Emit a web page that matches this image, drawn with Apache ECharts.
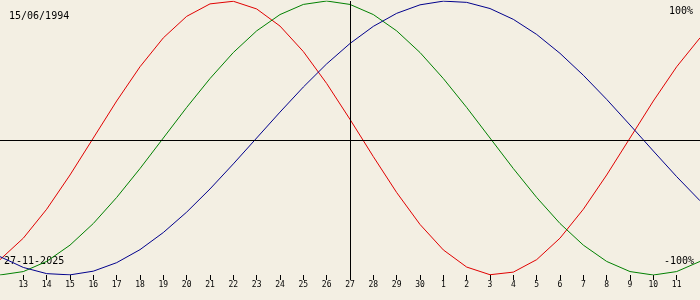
<!DOCTYPE html>
<html><head><meta charset="utf-8">
<script src="https://cdn.jsdelivr.net/npm/echarts@6/dist/echarts.min.js"></script>
<style>html,body{margin:0;padding:0;background:#f3efe3;}#c{width:700px;height:300px;}</style>
</head><body><div id="c"></div>
<script>
// Days shown: 12 Nov 2025 .. 12 Dec 2025 (selected day 27-11-2025)
var days = ['12','13','14','15','16','17','18','19','20','21','22','23','24','25','26','27','28','29','30',
            '1','2','3','4','5','6','7','8','9','10','11','12'];
// Values in percent
var physical = [-88.8,-73.1,-52.0,-27.0,0,27.0,52.0,73.1,88.8,97.9,99.8,94.2,81.7,63.1,39.8,13.6,
                -13.6,-39.8,-63.1,-81.7,-94.2,-99.8,-97.9,-88.8,-73.1,-52.0,-27.0,0,27.0,52.0,73.1];
var emotional = [-100,-97.5,-90.1,-78.2,-62.4,-43.4,-22.3,0,22.3,43.4,62.4,78.2,90.1,97.5,100,97.5,
                 90.1,78.2,62.4,43.4,22.3,0,-22.3,-43.4,-62.4,-78.2,-90.1,-97.5,-100,-97.5,-90.1];
var intellectual = [-86.6,-94.5,-99.0,-99.9,-97.2,-91.0,-81.5,-69.0,-54.1,-37.2,-18.9,0,18.9,37.2,54.1,69.0,
                    81.5,91.0,97.2,99.9,99.0,94.5,86.6,75.6,61.8,45.8,28.2,9.5,-9.5,-28.2,-45.8];
var birthDate = '15/06/1994';
var selectedDate = '27-11-2025';
var selectedIndex = 15;
var topLabel = '100%';
var bottomLabel = '-100%';

var chart = echarts.init(document.getElementById('c'), null, {renderer:'canvas'});
var edgeHide = function(i){ return i !== 0 && i !== days.length - 1; };
var mono = 'DejaVu Sans Mono';
chart.setOption({
  backgroundColor: '#f3efe3',
  animation: false,
  grid: {left: 0, right: 0, top: 1, bottom: 25},
  xAxis: {
    type: 'category', data: days, boundaryGap: false,
    axisLine: {show: false, onZero: false},
    axisTick: {show: true, length: 5, interval: edgeHide, lineStyle: {color: '#000', width: 1}},
    axisLabel: {interval: edgeHide, color: '#000', fontFamily: mono, fontSize: 8, margin: 6},
    splitLine: {show: false}
  },
  yAxis: {
    type: 'value', min: -100, max: 100, show: false
  },
  graphic: [
    {type: 'text', left: 9, top: 11, style: {text: birthDate, fill: '#000', font: '10px "DejaVu Sans Mono"'}},
    {type: 'text', right: 7, top: 6, style: {text: topLabel, fill: '#000', font: '10px "DejaVu Sans Mono"'}},
    {type: 'text', left: 4, top: 256, style: {text: selectedDate, fill: '#000', font: '10px "DejaVu Sans Mono"'}},
    {type: 'text', right: 6, top: 256, style: {text: bottomLabel, fill: '#000', font: '10px "DejaVu Sans Mono"'}}
  ],
  series: [
    {type: 'line', data: physical, symbol: 'none', lineStyle: {color: '#e00000', width: 1}, z: 3,
     markLine: {silent: true, symbol: 'none', label: {show: false},
       lineStyle: {color: '#000', width: 1, type: 'solid'},
       data: [{xAxis: selectedIndex}, {yAxis: -1.5}]}},
    {type: 'line', data: emotional, symbol: 'none', lineStyle: {color: '#008000', width: 1}, z: 3},
    {type: 'line', data: intellectual, symbol: 'none', lineStyle: {color: '#00008c', width: 1}, z: 3}
  ]
});
</script></body></html>
